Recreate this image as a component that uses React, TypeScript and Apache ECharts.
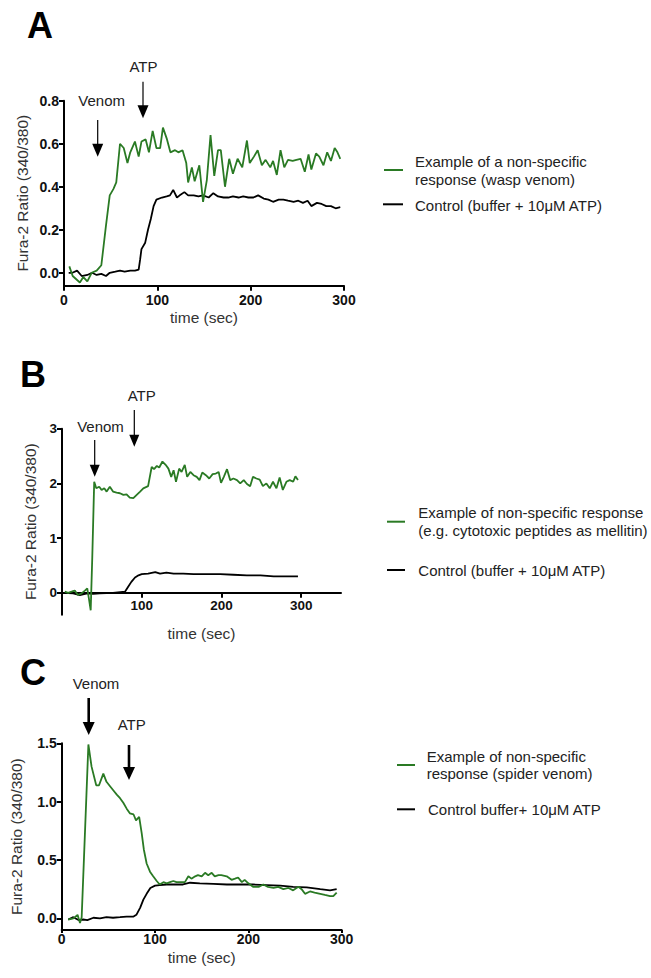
import React, { useEffect, useRef } from "react";
import * as echarts from "echarts";

// Panel A (wasp venom)
const timeAGreen = [5.7, 9.3, 17, 20.7, 25, 29.6, 35, 40, 45, 49, 53, 56, 60, 64, 68, 71, 76, 80, 83, 87.5, 91, 95, 99, 103, 106, 110, 114, 119, 122.5, 127, 131, 133, 137, 140, 145, 149, 153, 157, 161, 165, 168, 172.5, 177, 181, 186, 191, 196, 199, 203.5, 207.5, 212, 216, 221, 224, 228, 232, 236, 240, 245, 249, 253.5, 258, 262, 265, 270, 273.5, 278, 282, 286, 290, 293, 296];
const valAGreen = [0.03, -0.015, -0.045, -0.02, -0.04, 0.0, 0.01, 0.035, 0.22, 0.36, 0.39, 0.42, 0.6, 0.58, 0.51, 0.56, 0.61, 0.54, 0.61, 0.62, 0.56, 0.66, 0.58, 0.58, 0.675, 0.625, 0.56, 0.57, 0.56, 0.57, 0.51, 0.42, 0.49, 0.425, 0.5, 0.33, 0.43, 0.64, 0.45, 0.57, 0.57, 0.4, 0.53, 0.46, 0.53, 0.49, 0.615, 0.51, 0.54, 0.57, 0.5, 0.525, 0.49, 0.52, 0.455, 0.57, 0.49, 0.525, 0.52, 0.525, 0.53, 0.47, 0.55, 0.48, 0.555, 0.54, 0.5, 0.56, 0.52, 0.58, 0.56, 0.53];
const timeABlack = [5, 9, 14, 19, 25, 30, 35, 40, 45, 49, 55, 60, 65, 71, 76, 80, 81.5, 83, 87, 90, 93, 96, 99, 105, 110, 113.5, 117, 121, 124, 129, 133, 139, 144, 149, 155, 160, 165, 171, 176, 181, 187, 192, 197.5, 203, 208, 214, 219, 224, 230, 235, 240, 246, 251, 256, 261, 265, 271, 276, 281, 286, 291, 296];
const valABlack = [0.0, 0.0, 0.01, -0.015, -0.01, 0.0, -0.01, -0.005, -0.015, 0.0, 0.005, 0.01, 0.005, 0.01, 0.01, 0.015, 0.06, 0.11, 0.14, 0.2, 0.25, 0.31, 0.34, 0.35, 0.355, 0.36, 0.385, 0.35, 0.36, 0.375, 0.36, 0.36, 0.355, 0.36, 0.35, 0.37, 0.355, 0.35, 0.35, 0.355, 0.35, 0.355, 0.35, 0.35, 0.36, 0.345, 0.34, 0.33, 0.34, 0.34, 0.335, 0.33, 0.335, 0.325, 0.335, 0.31, 0.325, 0.32, 0.31, 0.31, 0.3, 0.305];

// Panel B (cytotoxic peptides)
const timeBGreen = [3.5, 7.7, 12, 16, 20, 24.5, 28.7, 31.7, 34, 36, 38, 40.4, 43, 46.7, 49.7, 53, 56, 60, 64, 68.5, 72.7, 77, 81, 85, 89.5, 93.7, 98, 102, 108, 112.5, 115.5, 119, 122, 126, 130, 133.5, 137, 140, 143, 147, 150, 154, 157, 161, 165, 169, 172.5, 176, 180.5, 184.7, 189, 193, 196.5, 199.5, 203, 207, 211, 215, 219.5, 223.6, 228, 232, 236, 239.6, 243.8, 248, 252, 256.4, 260.6, 264.7, 269, 273, 277, 281.5, 285.7, 290, 292.8, 296];
const valBGreen = [0.02, 0.0, 0.02, 0.04, -0.04, -0.01, 0.04, 0.08, -0.13, -0.32, 0.66, 2.03, 1.91, 1.94, 1.88, 1.91, 1.85, 1.94, 1.85, 1.83, 1.82, 1.79, 1.8, 1.74, 1.73, 1.79, 1.85, 1.91, 1.95, 2.3, 2.26, 2.32, 2.29, 2.4, 2.34, 2.27, 2.12, 2.24, 2.03, 2.27, 2.21, 2.34, 2.12, 2.21, 2.15, 2.12, 2.06, 2.2, 2.15, 2.09, 2.17, 2.18, 2.21, 2.01, 2.12, 2.26, 2.06, 2.09, 2.06, 2.0, 2.06, 1.99, 1.95, 2.12, 2.09, 2.07, 1.95, 2.0, 1.91, 2.03, 1.91, 2.11, 1.88, 2.03, 2.06, 2.03, 2.13, 2.06];
const timeBBlack = [1.4, 14, 22.4, 31.6, 39, 47.5, 64, 79, 83, 87, 91.6, 96, 100, 108, 117, 123, 131, 140, 152, 165, 182, 198.5, 215, 232, 249, 265.6, 282.4, 296];
const valBBlack = [0.0, -0.01, -0.04, -0.01, -0.02, -0.01, 0.0, 0.02, 0.11, 0.2, 0.28, 0.32, 0.34, 0.35, 0.38, 0.35, 0.37, 0.35, 0.35, 0.34, 0.34, 0.34, 0.33, 0.32, 0.32, 0.3, 0.3, 0.3];

// Panel C (spider venom)
const timeCGreen = [7, 12.5, 17, 19.6, 21.4, 28.6, 32, 37, 40, 44.6, 48, 52, 55, 59, 62.5, 66, 69.6, 73, 77, 79.6, 83, 85.7, 88, 91, 94.6, 98, 101.8, 105, 109, 112.5, 116, 119.6, 123, 128.6, 132, 135.7, 139, 143, 146, 150, 153.6, 157, 160.7, 164, 168, 171, 176.8, 182, 185.7, 189, 193, 196, 200, 205, 211, 216, 221, 227, 232, 237.5, 243, 248, 253.6, 257, 260.7, 266, 271, 277, 282, 287.5, 291, 294.6];
const valCGreen = [-0.01, 0.0, 0.03, -0.04, 0.01, 1.49, 1.3, 1.14, 1.14, 1.24, 1.17, 1.13, 1.1, 1.06, 1.03, 0.99, 0.94, 0.9, 0.89, 0.84, 0.87, 0.73, 0.59, 0.47, 0.4, 0.36, 0.32, 0.29, 0.31, 0.3, 0.31, 0.32, 0.31, 0.31, 0.31, 0.36, 0.34, 0.36, 0.37, 0.36, 0.39, 0.37, 0.39, 0.36, 0.37, 0.37, 0.36, 0.33, 0.34, 0.35, 0.31, 0.33, 0.3, 0.27, 0.27, 0.29, 0.27, 0.26, 0.27, 0.25, 0.26, 0.24, 0.27, 0.25, 0.21, 0.23, 0.22, 0.21, 0.2, 0.19, 0.19, 0.22];
const timeCBlack = [7, 12.5, 18, 23, 27.5, 34, 41, 48, 55, 62.5, 69.6, 77, 80, 84, 87.5, 91, 95, 100, 105, 112.5, 119.6, 130, 137.5, 148, 162.5, 177, 191, 205, 219.6, 234, 248, 262.5, 277, 287.5, 294.6];
const valCBlack = [-0.01, 0.01, -0.015, -0.01, -0.015, 0.005, 0.0, 0.01, 0.005, 0.01, 0.015, 0.015, 0.03, 0.09, 0.16, 0.21, 0.26, 0.28, 0.285, 0.29, 0.29, 0.29, 0.305, 0.3, 0.295, 0.29, 0.29, 0.29, 0.285, 0.28, 0.27, 0.265, 0.25, 0.24, 0.25];

// Tick labels
const ticksA = [0, 0.2, 0.4, 0.6, 0.8];
const ticksB = [0, 1, 2, 3];
const ticksC = [0, 0.5, 1.0, 1.5];
const xTicksAC = [0, 100, 200, 300];
const xTicksB = [100, 200, 300];

const legendA = ["Example of a non-specific\nresponse (wasp venom)", "Control (buffer + 10μM ATP)"];
const legendB = ["Example of non-specific response\n(e.g. cytotoxic peptides as mellitin)", "Control (buffer + 10μM ATP)"];
const legendC = ["Example of non-specific\nresponse (spider venom)", "Control buffer+ 10μM ATP"];

const GREEN = "#2a7a24";
const FONT = "'Liberation Sans', Arial, sans-serif";

const pairs = (t: number[], v: number[]) => t.map((x, i) => [x, v[i]]);

export default function App() {
  const ref = useRef<HTMLDivElement>(null);
  useEffect(() => {
    if (!ref.current) return;
    const chart = echarts.init(ref.current, null, { renderer: "svg" });

    const axisLine = { show: true, onZero: false, lineStyle: { color: "#000", width: 2 } };
    const nameStyle = { color: "#333", fontSize: 15.5, fontFamily: FONT };

    const mkX = (idx: number, max: number, custom: number[], offset: number, nameGap: number, fs: number, margin: number, tickLen: number) => ({
      type: "value",
      gridIndex: idx,
      min: 0,
      max,
      offset,
      splitLine: { show: false },
      axisLine: { ...axisLine },
      axisTick: { show: true, length: tickLen, lineStyle: { color: "#000", width: 2 }, customValues: custom },
      axisLabel: { customValues: custom, fontWeight: "bold", fontSize: fs, color: "#111", fontFamily: FONT, margin },
      name: "time (sec)",
      nameLocation: "middle",
      nameGap,
      nameTextStyle: nameStyle,
    });
    const mkY = (idx: number, min: number, max: number, custom: number[], dec: number, nameGap: number, fs: number) => ({
      type: "value",
      gridIndex: idx,
      min,
      max,
      splitLine: { show: false },
      axisLine: { ...axisLine },
      axisTick: { show: true, length: 5, lineStyle: { color: "#000", width: 2 }, customValues: custom },
      axisLabel: {
        customValues: custom,
        fontWeight: "bold",
        fontSize: fs,
        color: "#111",
        fontFamily: FONT,
        margin: 5,
        formatter: (v: number) => v.toFixed(dec),
      },
      name: "Fura-2 Ratio (340/380)",
      nameLocation: "middle",
      nameGap,
      nameTextStyle: nameStyle,
    });

    const line = (name: string, t: number[], v: number[], color: string, idx: number) => ({
      type: "line",
      name,
      xAxisIndex: idx,
      yAxisIndex: idx,
      data: pairs(t, v),
      showSymbol: false,
      symbol: "none",
      lineStyle: { color, width: 1.8 },
      z: color === GREEN ? 3 : 2,
    });

    const arrow = (x: number, y1: number, tip: number, w: number, headH: number, headW: number) => [
      { type: "line", shape: { x1: x, y1, x2: x, y2: tip - headH + 1 }, style: { stroke: "#000", lineWidth: w } },
      {
        type: "polygon",
        shape: { points: [[x - headW / 2, tip - headH], [x + headW / 2, tip - headH], [x, tip]] },
        style: { fill: "#000" },
      },
    ];
    const txt = (text: string, x: number, y: number, size: number, align = "center", weight = "normal", lh = 17.6) => ({
      type: "text",
      style: {
        text,
        x,
        y,
        fill: weight === "bold" ? "#000" : "#222",
        font: `${weight} ${size}px ${FONT}`,
        align,
        verticalAlign: "middle",
        lineHeight: lh,
      },
    });
    const legLine = (x1: number, x2: number, y: number, color: string) => ({
      type: "line",
      shape: { x1, y1: y, x2, y2: y },
      style: { stroke: color, lineWidth: 2 },
    });

    const graphic = [
      txt("A", 40, 25, 36, "center", "bold"),
      txt("B", 33, 374, 36, "center", "bold"),
      txt("C", 33, 672, 36, "center", "bold"),
      txt("Venom", 101.7, 100.7, 15),
      txt("ATP", 143.5, 66.7, 15),
      ...arrow(97.7, 120, 156.7, 1.2, 13, 11),
      ...arrow(143, 81.7, 118.3, 1.2, 13, 11),
      txt("ATP", 141.7, 395, 15),
      txt("Venom", 100.5, 426.7, 15),
      ...arrow(134.3, 410, 446.7, 1.2, 12, 10),
      ...arrow(94.7, 440, 476.7, 1.2, 12, 10),
      txt("Venom", 96, 683, 15),
      txt("ATP", 131.7, 724.3, 15),
      ...arrow(88.7, 698, 735, 2.6, 13, 12),
      ...arrow(129, 745, 780, 2.6, 13, 12),
      legLine(384, 403, 170, GREEN),
      txt(legendA[0], 415, 170.5, 15, "left"),
      legLine(383, 403, 204.3, "#000"),
      txt(legendA[1], 415, 205, 15, "left"),
      legLine(387, 405, 521.7, GREEN),
      txt(legendB[0], 418.3, 521.7, 15, "left"),
      legLine(387, 405, 570, "#000"),
      txt(legendB[1], 418.3, 570, 15, "left"),
      legLine(397, 415, 765, GREEN),
      txt(legendC[0], 426.7, 765, 15, "left"),
      legLine(397, 415, 809.3, "#000"),
      txt(legendC[1], 428, 809.3, 15, "left"),
    ];

    // Panel B: x axis sits at y = 0 while the y axis runs down to -0.4
    const bMin = -0.4;
    const bMax = 3;
    const bHeight = 186;
    const bOffset = -(bHeight * (0 - bMin)) / (bMax - bMin);

    chart.setOption({
      animation: false,
      backgroundColor: "#fff",
      grid: [
        { left: 64, top: 100.7, width: 280, height: 185 },
        { left: 62, top: 428.7, width: 279, height: bHeight },
        { left: 61.7, top: 743.3, width: 280, height: 186.7 },
      ],
      xAxis: [
        mkX(0, 300, xTicksAC, 0, 24, 14, 7, 5),
        mkX(1, 350, xTicksB, bOffset, 33, 13.5, 6, 5),
        mkX(2, 300, xTicksAC, 0, 19, 14, 2, 3),
      ],
      yAxis: [
        mkY(0, -0.06, 0.8, ticksA, 1, 34, 14),
        mkY(1, bMin, bMax, ticksB, 0, 24, 13.5),
        mkY(2, -0.1, 1.5, ticksC, 1, 37, 14),
      ],
      series: [
        line("Control A", timeABlack, valABlack, "#000", 0),
        line("Wasp venom", timeAGreen, valAGreen, GREEN, 0),
        line("Control B", timeBBlack, valBBlack, "#000", 1),
        line("Cytotoxic peptides", timeBGreen, valBGreen, GREEN, 1),
        line("Control C", timeCBlack, valCBlack, "#000", 2),
        line("Spider venom", timeCGreen, valCGreen, GREEN, 2),
      ],
      graphic,
    });

    return () => chart.dispose();
  }, []);

  return (
    <div
      ref={ref}
      style={{ position: "fixed", left: 0, top: 0, width: 651, height: 978, background: "#fff" }}
    />
  );
}
